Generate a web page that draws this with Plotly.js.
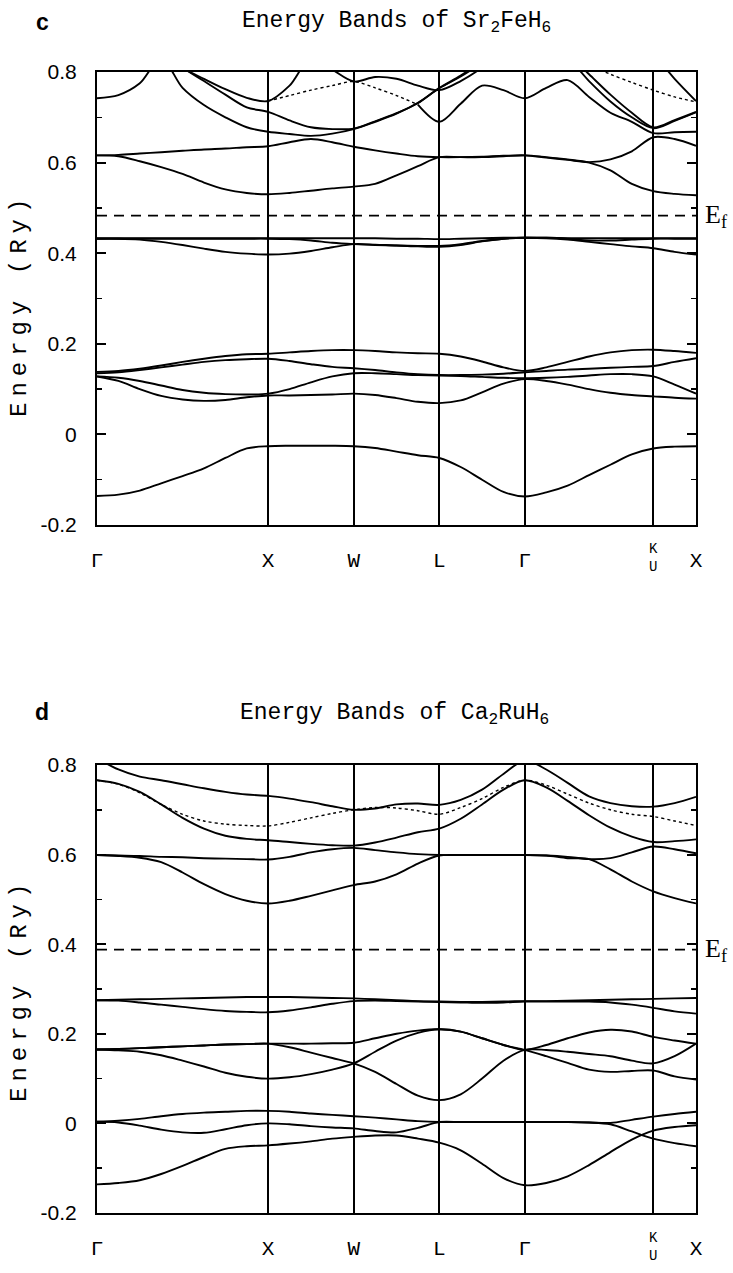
<!DOCTYPE html>
<html><head><meta charset="utf-8">
<script src="https://cdn.plot.ly/plotly-3.0.1.min.js"></script>
<style>html,body{margin:0;padding:0;background:#fff}#chart{width:733px;height:1273px}</style>
</head><body><div id="chart"></div>
<script>
// k-path positions (Γ X W L Γ K|U X)
const kGrid = [0,0.125,0.25,0.375,0.5,0.625,0.75,0.875,1,1.125,1.25,1.375,1.5,1.625,1.75,1.875,2,2.125,2.25,2.375,2.5,2.625,2.75,2.875,3,3.125,3.25,3.375,3.5];
const kTicks = [0,1,1.5,2,2.5,3.25,3.5];
const kTickText = ['Γ','X','W','L','Γ','','X'];
const kuPos = 3.25;
const kuText = ['K','U'];
const yTicks = [-0.2,0,0.2,0.4,0.6,0.8];
const yTickText = ['-0.2','0','0.2','0.4','0.6','0.8'];
const fermiC = 0.483;
const fermiD = 0.388;

// ---- Panel c : Sr2FeH6 (Ry) ----
const c1 = [-0.136,-0.133,-0.124,-0.108,-0.092,-0.075,-0.052,-0.031,-0.026,-0.025,-0.025,-0.025,-0.026,-0.030,-0.038,-0.046,-0.052,-0.072,-0.100,-0.127,-0.137,-0.128,-0.113,-0.090,-0.067,-0.044,-0.031,-0.027,-0.026];
const c2 = [0.128,0.118,0.100,0.085,0.077,0.074,0.076,0.082,0.086,0.086,0.087,0.088,0.090,0.087,0.080,0.072,0.069,0.075,0.093,0.112,0.122,0.118,0.110,0.100,0.092,0.087,0.084,0.081,0.079];
const c3 = [0.128,0.125,0.118,0.108,0.098,0.092,0.089,0.088,0.090,0.100,0.115,0.128,0.135,0.135,0.133,0.131,0.130,0.129,0.127,0.125,0.124,0.125,0.127,0.130,0.133,0.133,0.128,0.110,0.090];
const c4 = [0.135,0.137,0.142,0.148,0.154,0.160,0.164,0.166,0.167,0.162,0.155,0.149,0.146,0.142,0.137,0.133,0.131,0.131,0.132,0.134,0.137,0.140,0.143,0.145,0.147,0.149,0.151,0.160,0.168];
const c5 = [0.138,0.140,0.145,0.152,0.160,0.167,0.173,0.177,0.178,0.181,0.184,0.186,0.186,0.184,0.181,0.179,0.178,0.172,0.161,0.148,0.140,0.148,0.160,0.172,0.181,0.186,0.187,0.184,0.180];
const c6 = [0.432,0.432,0.430,0.425,0.418,0.410,0.403,0.399,0.397,0.399,0.405,0.413,0.420,0.419,0.417,0.416,0.416,0.420,0.427,0.432,0.434,0.433,0.430,0.425,0.420,0.415,0.411,0.403,0.397];
const c7 = [0.432,0.432,0.432,0.432,0.432,0.432,0.432,0.432,0.432,0.431,0.428,0.423,0.420,0.418,0.417,0.415,0.414,0.418,0.426,0.432,0.434,0.434,0.432,0.428,0.428,0.430,0.432,0.432,0.432];
const c8 = [0.433,0.433,0.433,0.433,0.433,0.433,0.433,0.433,0.433,0.433,0.433,0.433,0.433,0.433,0.432,0.432,0.431,0.432,0.433,0.434,0.434,0.434,0.433,0.433,0.433,0.433,0.433,0.433,0.433];
const c9 = [0.616,0.614,0.603,0.590,0.575,0.556,0.541,0.533,0.530,0.533,0.538,0.543,0.547,0.553,0.572,0.592,0.612,0.612,0.612,0.614,0.616,0.612,0.607,0.600,0.583,0.553,0.537,0.531,0.528];
const c10 = [0.616,0.617,0.620,0.623,0.626,0.629,0.631,0.634,0.636,0.645,0.652,0.645,0.635,0.627,0.620,0.614,0.612,0.612,0.613,0.615,0.616,0.611,0.606,0.601,0.607,0.625,0.656,0.652,0.637];
const c11 = [0.742,0.749,0.775,0.830,0.765,0.727,0.700,0.678,0.668,0.663,0.659,0.664,0.674,0.690,0.708,0.732,0.764,0.790,0.820,0.850,0.860,0.850,0.830,0.780,0.735,0.700,0.676,0.692,0.711];
const c12 = [0.950,0.930,0.890,0.850,0.810,0.780,0.750,0.722,0.712,0.693,0.678,0.674,0.675,0.691,0.709,0.731,0.765,0.792,0.825,0.860,0.870,0.870,0.840,0.795,0.750,0.710,0.678,0.694,0.712];
const c13 = [0.950,0.930,0.900,0.860,0.810,0.785,0.762,0.743,0.736,0.770,0.830,0.805,0.779,0.789,0.785,0.770,0.760,0.780,0.810,0.850,0.870,0.880,0.890,0.900,0.900,0.880,0.840,0.785,0.736];
const c14 = [null,null,null,null,null,null,null,null,null,null,null,null,null,null,null,0.728,0.690,0.730,0.770,0.760,0.742,0.765,0.782,0.745,0.710,0.690,0.665,0.667,0.668];
const c15dot = [null,null,null,null,null,null,null,null,0.736,0.748,0.760,0.770,0.779,0.765,0.748,0.728,null,null,null,null,null,null,null,null,null,null,null,null,null];
const c16dot = [null,null,null,null,null,null,null,null,null,null,null,null,null,null,null,null,null,null,null,null,null,null,null,0.815,0.795,0.777,0.760,0.745,0.734];

// ---- Panel d : Ca2RuH6 (Ry) ----
const d1 = [-0.136,-0.133,-0.127,-0.113,-0.095,-0.075,-0.057,-0.051,-0.049,-0.045,-0.040,-0.034,-0.030,-0.027,-0.027,-0.034,-0.043,-0.060,-0.090,-0.122,-0.138,-0.133,-0.118,-0.093,-0.064,-0.036,-0.016,-0.008,-0.004];
const d2 = [0.004,0.002,-0.005,-0.014,-0.020,-0.021,-0.013,-0.004,0.000,-0.002,-0.006,-0.009,-0.011,-0.017,-0.020,-0.010,0.003,0.003,0.003,0.003,0.003,0.003,0.003,0.002,-0.002,-0.018,-0.034,-0.044,-0.051];
const d3 = [0.004,0.006,0.010,0.016,0.021,0.024,0.026,0.028,0.028,0.026,0.022,0.019,0.016,0.013,0.009,0.005,0.003,0.003,0.003,0.003,0.003,0.003,0.003,0.002,0.001,0.008,0.015,0.021,0.026];
const d4 = [0.165,0.166,0.168,0.170,0.172,0.174,0.176,0.177,0.178,0.178,0.178,0.179,0.180,0.190,0.200,0.207,0.210,0.205,0.190,0.175,0.164,0.175,0.190,0.203,0.209,0.205,0.193,0.185,0.178];
const d5 = [0.165,0.166,0.168,0.170,0.172,0.174,0.176,0.177,0.178,0.170,0.158,0.146,0.134,0.115,0.088,0.062,0.052,0.065,0.100,0.140,0.164,0.164,0.160,0.155,0.150,0.140,0.134,0.150,0.178];
const d6 = [0.165,0.163,0.160,0.152,0.140,0.127,0.113,0.104,0.100,0.103,0.110,0.120,0.134,0.160,0.185,0.202,0.210,0.205,0.190,0.175,0.164,0.150,0.135,0.120,0.115,0.117,0.118,0.105,0.098];
const d7 = [0.275,0.276,0.277,0.278,0.279,0.280,0.281,0.282,0.282,0.282,0.281,0.280,0.279,0.277,0.275,0.273,0.272,0.271,0.271,0.272,0.273,0.273,0.274,0.275,0.276,0.277,0.278,0.279,0.280];
const d8 = [0.275,0.274,0.270,0.265,0.260,0.255,0.251,0.249,0.248,0.252,0.259,0.267,0.273,0.274,0.273,0.272,0.271,0.270,0.269,0.270,0.272,0.272,0.272,0.272,0.270,0.265,0.258,0.250,0.245];
const d9 = [0.599,0.597,0.593,0.583,0.560,0.534,0.512,0.497,0.491,0.497,0.508,0.520,0.532,0.540,0.556,0.580,0.598,0.599,0.599,0.599,0.599,0.598,0.592,0.590,0.567,0.540,0.518,0.503,0.491];
const d10 = [0.599,0.598,0.597,0.595,0.594,0.592,0.591,0.590,0.589,0.595,0.605,0.612,0.615,0.610,0.605,0.601,0.599,0.599,0.599,0.599,0.599,0.598,0.595,0.590,0.592,0.605,0.618,0.612,0.603];
const d11 = [0.815,0.790,0.774,0.766,0.757,0.748,0.740,0.734,0.731,0.725,0.717,0.708,0.700,0.703,0.712,0.714,0.711,0.722,0.745,0.780,0.810,0.790,0.760,0.730,0.715,0.708,0.707,0.715,0.729];
const d12 = [0.766,0.758,0.740,0.712,0.682,0.658,0.642,0.635,0.632,0.628,0.624,0.621,0.620,0.627,0.638,0.650,0.658,0.680,0.712,0.745,0.766,0.750,0.720,0.688,0.660,0.640,0.628,0.630,0.634];
const d13dot = [0.766,0.757,0.738,0.712,0.690,0.675,0.668,0.665,0.664,0.672,0.682,0.692,0.700,0.705,0.704,0.698,0.690,0.705,0.725,0.750,0.766,0.755,0.735,0.715,0.700,0.690,0.685,0.675,0.665];

const solidC = [c1,c2,c3,c4,c5,c6,c7,c8,c9,c10,c11,c12,c13,c14];
const dotC = [c15dot,c16dot];
const solidD = [d1,d2,d3,d4,d5,d6,d7,d8,d9,d10,d11,d12];
const dotD = [d13dot];

const traces = [];
function addBand(y, xa, ya, dotted){
  traces.push({x:kGrid, y:y, xaxis:xa, yaxis:ya, type:'scatter', mode:'lines',
    line:{color:'#000', width: dotted?1.4:1.9, shape:'spline', smoothing:0.9, dash: dotted?'dot':'solid'},
    connectgaps:false, hoverinfo:'skip', showlegend:false});
}
solidC.forEach(b=>addBand(b,'x','y',false));
dotC.forEach(b=>addBand(b,'x','y',true));
solidD.forEach(b=>addBand(b,'x2','y2',false));
dotD.forEach(b=>addBand(b,'x2','y2',true));
[[fermiC,'x','y'],[fermiD,'x2','y2']].forEach(([ef,xa,ya])=>{
  traces.push({x:[0,3.5], y:[ef,ef], xaxis:xa, yaxis:ya, type:'scatter', mode:'lines',
    line:{color:'#000', width:1.8, dash:'10px,7px'}, hoverinfo:'skip', showlegend:false});
});

const W = 733, H = 1273;
const xDom = [97/W, 696/W];
const yDomC = [1-525/H, 1-72/H];
const yDomD = [1-1213/H, 1-765/H];

function xAxis(anchor){
  return {domain:xDom, anchor:anchor, range:[0,3.5], tickmode:'array', tickvals:kTicks, ticktext:kTickText,
    showgrid:true, gridcolor:'#000', gridwidth:2, zeroline:false, showline:true, mirror:true,
    linecolor:'#000', linewidth:2, ticks:'', ticklabelstandoff:15,
    tickfont:{family:'Liberation Mono, monospace', size:21, color:'#000'}, fixedrange:true};
}
function yAxis(anchor, dom){
  return {domain:dom, anchor:anchor, range:[-0.2,0.8], tickmode:'array', tickvals:yTicks, ticktext:yTickText,
    showgrid:false, zeroline:false, showline:true, mirror:'ticks', linecolor:'#000', linewidth:2,
    ticks:'inside', ticklen:9, tickwidth:2, tickcolor:'#000', ticklabelstandoff:14,
    minor:{dtick:0.1, ticks:'inside', ticklen:5, tickwidth:1.5, tickcolor:'#000', showgrid:false},
    tickfont:{family:'Liberation Sans, Arial, sans-serif', size:21, color:'#000'}, fixedrange:true};
}

const px = v=>v/W, py = v=>1-v/H;
const yTitleFont = {family:'Liberation Mono, monospace', size:24, color:'#000'};
const ttlFont = {family:'Liberation Mono, monospace', size:23, color:'#000'};
const kuFont = {family:'Liberation Mono, monospace', size:14, color:'#000'};
const annotations = [
  {text:'c', x:px(42), y:py(22), xref:'paper', yref:'paper', xanchor:'center', yanchor:'middle', showarrow:false, font:{family:'Liberation Sans, Arial', size:23, color:'#000', weight:'bold'}},
  {text:'d', x:px(42), y:py(712), xref:'paper', yref:'paper', xanchor:'center', yanchor:'middle', showarrow:false, font:{family:'Liberation Sans, Arial', size:23, color:'#000', weight:'bold'}},
  {text:'Energy Bands of Sr<sub>2</sub>FeH<sub>6</sub>', x:px(396), y:py(22), xref:'paper', yref:'paper', xanchor:'center', yanchor:'middle', showarrow:false, font:ttlFont},
  {text:'Energy Bands of Ca<sub>2</sub>RuH<sub>6</sub>', x:px(394), y:py(714), xref:'paper', yref:'paper', xanchor:'center', yanchor:'middle', showarrow:false, font:ttlFont},
  {text:'Energy (Ry)', x:px(19), y:py(305), xref:'paper', yref:'paper', xanchor:'center', yanchor:'middle', textangle:-90, showarrow:false, font:yTitleFont},
  {text:'Energy (Ry)', x:px(19), y:py(990), xref:'paper', yref:'paper', xanchor:'center', yanchor:'middle', textangle:-90, showarrow:false, font:yTitleFont},
  {text:'E<sub>f</sub>', x:px(703), y:fermiC, xref:'paper', yref:'y', xanchor:'left', yanchor:'middle', showarrow:false, font:{family:'Liberation Serif, serif', size:26, color:'#000'}},
  {text:'E<sub>f</sub>', x:px(703), y:fermiD, xref:'paper', yref:'y2', xanchor:'left', yanchor:'middle', showarrow:false, font:{family:'Liberation Serif, serif', size:26, color:'#000'}},
  {text:kuText[0], x:kuPos, y:py(549), xref:'x', yref:'paper', xanchor:'center', yanchor:'middle', showarrow:false, font:kuFont},
  {text:kuText[1], x:kuPos, y:py(567), xref:'x', yref:'paper', xanchor:'center', yanchor:'middle', showarrow:false, font:kuFont},
  {text:kuText[0], x:kuPos, y:py(1238), xref:'x2', yref:'paper', xanchor:'center', yanchor:'middle', showarrow:false, font:kuFont},
  {text:kuText[1], x:kuPos, y:py(1256), xref:'x2', yref:'paper', xanchor:'center', yanchor:'middle', showarrow:false, font:kuFont}
];

const layout = {
  width:W, height:H, margin:{l:0,r:0,t:0,b:0}, paper_bgcolor:'#fff', plot_bgcolor:'#fff',
  showlegend:false, xaxis:xAxis('y'), yaxis:yAxis('x', yDomC), xaxis2:xAxis('y2'), yaxis2:yAxis('x2', yDomD),
  annotations:annotations
};
Plotly.newPlot('chart', traces, layout, {staticPlot:true, displayModeBar:false}).then(gd=>{
  // typewriter-like wide letter spacing for the vertical axis titles
  gd.querySelectorAll('.annotation-text').forEach(t=>{
    if (t.textContent === 'Energy (Ry)') t.style.letterSpacing = '6px';
  });
});
</script></body></html>
